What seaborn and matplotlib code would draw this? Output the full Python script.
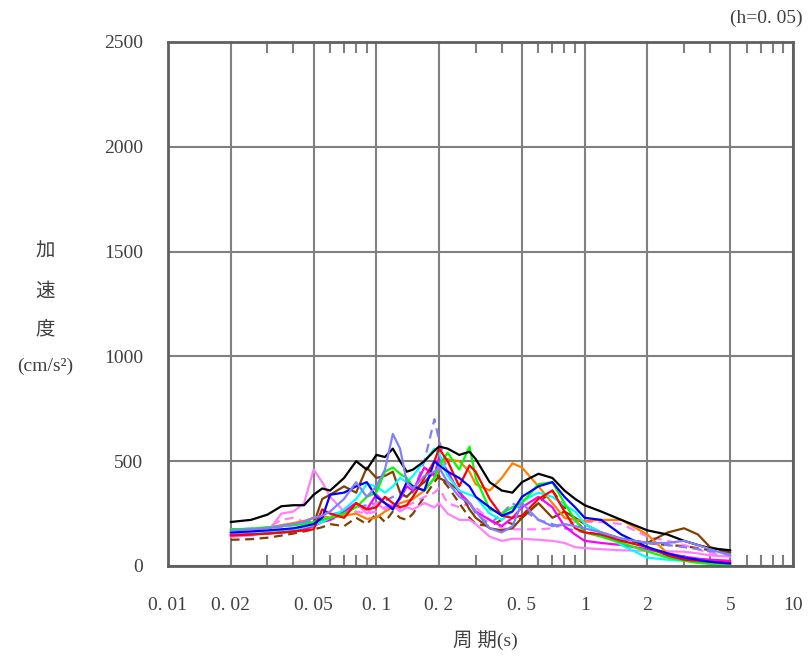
import matplotlib
matplotlib.use("Agg")
import matplotlib.pyplot as plt
import seaborn as sns
from matplotlib.ticker import FixedLocator, NullFormatter, NullLocator

# ---------------- data ----------------
periods = [0.02, 0.025, 0.03, 0.035, 0.04, 0.045, 0.05, 0.055, 0.06,
           0.07, 0.08, 0.09, 0.1, 0.11, 0.12, 0.13, 0.14, 0.15,
           0.17, 0.19, 0.2, 0.22, 0.25, 0.28, 0.3, 0.35, 0.4, 0.45, 0.5,
           0.6, 0.7, 0.8, 0.9, 1.0, 1.2, 1.5, 2.0, 2.5, 3.0, 3.5, 4.0, 5.0]

black = [210, 220, 245, 285, 290, 290, 340, 370, 360, 420, 500, 460, 530,
         520, 560, 500, 450, 460, 500, 550, 570, 560, 530, 545, 510,
         400, 360, 350, 400, 440, 420, 360, 320, 290, 260, 220, 170, 150, 120, 100, 85, 75]
pink = [140, 145, 160, 250, 260, 300, 460, 400, 330, 260, 300, 250, 300,
        270, 290, 260, 280, 270, 300, 280, 300, 250, 220, 220, 200,
        140, 120, 130, 130, 125, 120, 110, 90, 85, 80, 75, 72, 70, 68, 60, 50, 45]
violet = [170, 175, 180, 190, 200, 210, 230, 240, 260, 320, 400, 330, 380,
          460, 630, 560, 400, 370, 430, 450, 470, 400, 330, 300, 260,
          180, 160, 190, 300, 220, 190, 200, 190, 180, 160, 130, 110, 110, 120, 100, 80, 50]
violet_dash = [175, 178, 182, 188, 195, 205, 215, 230, 245, 260, 280, 290, 300,
               310, 330, 340, 330, 350, 500, 700, 600, 450, 350, 300, 250,
               200, 250, 300, 270, 220, 200, 180, 170, 160, 150, 130, 110, 100, 90, 80, 70, 60]
blue = [160, 165, 170, 175, 180, 190, 200, 230, 340, 350, 380, 400, 330,
        300, 270, 330, 400, 380, 360, 500, 480, 450, 420, 380, 330,
        280, 240, 260, 330, 380, 400, 330, 280, 230, 220, 150, 90, 60, 40, 30, 20, 12]
red = [145, 150, 155, 160, 165, 170, 175, 270, 250, 230, 300, 270, 280,
       330, 300, 280, 290, 330, 420, 500, 560, 500, 380, 480, 450,
       320, 240, 230, 240, 320, 360, 260, 180, 160, 150, 120, 90, 50, 30, 25, 20, 15]
green = [175, 178, 185, 190, 195, 200, 210, 220, 230, 250, 280, 330, 350,
         450, 470, 440, 420, 380, 360, 420, 480, 540, 460, 570, 420,
         270, 250, 280, 300, 390, 400, 300, 220, 160, 140, 110, 70, 40, 25, 15, 10, 6]
cyan = [160, 162, 165, 170, 175, 185, 195, 210, 230, 270, 320, 390, 380,
        350, 380, 420, 400, 430, 500, 560, 540, 430, 360, 340, 330,
        250, 220, 260, 310, 350, 330, 290, 260, 200, 160, 100, 40, 30, 25, 20, 15, 10]
magenta = [150, 152, 155, 160, 165, 175, 190, 210, 220, 260, 300, 270, 340,
           300, 280, 320, 380, 360, 470, 430, 520, 450, 350, 300, 260,
           220, 190, 230, 280, 330, 280, 190, 150, 120, 110, 100, 80, 60, 45, 35, 30, 25]
orange = [165, 170, 180, 195, 205, 215, 230, 240, 230, 240, 250, 225, 230,
          260, 280, 300, 310, 320, 360, 420, 470, 510, 500, 450, 390,
          360, 420, 490, 470, 380, 300, 230, 220, 215, 220, 220, 150, 60, 40, 30, 25, 20]
brown = [150, 152, 155, 160, 165, 175, 200, 320, 340, 380, 350, 470, 420,
         430, 450, 350, 330, 360, 400, 450, 420, 400, 360, 270, 230,
         180, 170, 180, 230, 300, 230, 260, 230, 200, 160, 130, 110, 160, 180, 150, 90, 65]
brown_dash = [125, 128, 135, 145, 155, 165, 175, 185, 200, 190, 230, 200, 250,
              210, 260, 230, 220, 250, 330, 400, 430, 380, 300, 230, 200,
              190, 220, 200, 230, 300, 360, 280, 220, 170, 140, 120, 110, 100, 95, 85, 75, 60]
pink_dash = [140, 150, 180, 220, 230, 210, 200, 210, 220, 240, 260, 250, 260,
             280, 300, 270, 290, 300, 330, 350, 370, 300, 280, 300, 280,
             220, 180, 175, 175, 175, 180, 200, 210, 210, 210, 200, 140, 120, 100, 80, 60, 45]

x_ticks = [0.01, 0.02, 0.05, 0.1, 0.2, 0.5, 1, 2, 5, 10]
x_tick_labels = ["0. 01", "0. 02", "0. 05", "0. 1", "0. 2", "0. 5", "1", "2", "5", "10"]
x_minor = [0.03, 0.04, 0.06, 0.07, 0.08, 0.09, 0.3, 0.4, 0.6, 0.7, 0.8, 0.9,
           3, 4, 6, 7, 8, 9]
y_ticks = [0, 500, 1000, 1500, 2000, 2500]

series = [
    (brown_dash, "#804000", True),
    (pink_dash, "#FF80FF", True),
    (violet_dash, "#8080FF", True),
    (pink, "#FF80FF", False),
    (brown, "#804000", False),
    (orange, "#FF8000", False),
    (magenta, "#FF00FF", False),
    (cyan, "#00FFFF", False),
    (green, "#00FF00", False),
    (red, "#FF0000", False),
    (blue, "#0000FF", False),
    (black, "#000000", False),
    (violet, "#8080FF", False),
]

# ---------------- style ----------------
sns.set_style("white")
plt.rcParams["font.family"] = ["Liberation Serif", "Noto Sans CJK JP", "DejaVu Sans"]
txt_color = "#404040"

fig = plt.figure(figsize=(8.08, 6.57), dpi=100)
ax = fig.add_axes([168 / 808, 1 - 566 / 657, (793 - 168) / 808, (566 - 42) / 657])

for vals, color, dashed in series:
    sns.lineplot(x=periods, y=vals, color=color, lw=1.6, ax=ax, sort=False)
    if dashed:
        ax.lines[-1].set_dashes([4, 2.5])

ax.set_xscale("log")
ax.set_xlim(0.01, 10)
ax.set_ylim(0, 2500)
ax.set_xticks(x_ticks)
ax.set_xticklabels(x_tick_labels)
ax.set_yticks(y_ticks)
ax.set_yticklabels([str(v) for v in y_ticks])
ax.xaxis.set_minor_locator(FixedLocator(x_minor))
ax.xaxis.set_minor_formatter(NullFormatter())
ax.yaxis.set_minor_locator(NullLocator())

ax.grid(True, which="major", color="#808080", lw=1.5)
ax.set_axisbelow(True)
ax.tick_params(axis="x", which="major", length=0, pad=22, labelsize=14, labelcolor=txt_color)
ax.tick_params(axis="y", which="major", length=0, pad=18, labelsize=14, labelcolor=txt_color)
ax.tick_params(axis="x", which="minor", direction="in", length=8, width=1.5,
               color="#808080", top=True, bottom=True)
for sp in ax.spines.values():
    sp.set_color("#606060")
    sp.set_linewidth(2)
ax.set_xlabel("")
ax.set_ylabel("")

# y-axis label stacked vertically
for s, ypix in [("加", 252), ("速", 292), ("度", 330), ("(cm/s²)", 366)]:
    fig.text(45 / 808, 1 - ypix / 657, s, ha="center", va="center",
             fontsize=14, color=txt_color)

fig.text(485 / 808, 1 - 640 / 657, "周 期(s)", ha="center", va="center",
         fontsize=14, color=txt_color)
fig.text(803 / 808, 1 - 18 / 657, "(h=0. 05)", ha="right", va="center",
         fontsize=14, color=txt_color)

fig.savefig("out.png", dpi=100)
